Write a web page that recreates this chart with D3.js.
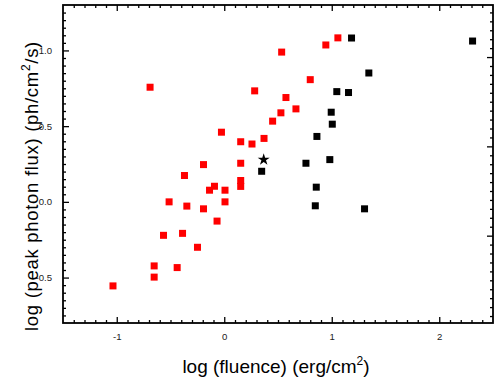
<!DOCTYPE html>
<html>
<head>
<meta charset="utf-8">
<script src="https://cdn.jsdelivr.net/npm/d3@7"></script>
<style>
  html, body { margin: 0; padding: 0; background: #fff; }
  svg { display: block; font-family: "Liberation Sans", Arial, sans-serif; }
</style>
</head>
<body>
<svg id="chart" width="500" height="383"></svg>
<script>
// ---- data (log fluence, log peak photon flux) ----
const redX = [-0.69, -0.026, 1.057, 0.945, 0.534, 0.80, 0.283, 0.574, 0.667, 0.527, 0.450, 0.37,
              0.153, 0.258, -0.193, 0.153, -0.37, 0.153, 0.153, -0.091, -0.137, 0.007, 0.007,
              -0.513, -0.348, -0.193, -0.067, -0.565, -0.388, -0.249, -0.652, -0.438, -0.652, -1.035];
const redY = [0.757, 0.46, 1.083, 1.036, 0.989, 0.807, 0.733, 0.689, 0.614, 0.588, 0.533, 0.419,
              0.397, 0.382, 0.246, 0.255, 0.174, 0.141, 0.102, 0.103, 0.077, 0.077, 0.0,
              0.0, -0.028, -0.046, -0.127, -0.221, -0.208, -0.30, -0.423, -0.434, -0.497, -0.555];
const blackX = [1.184, 1.345, 1.047, 1.156, 0.995, 1.005, 0.862, 0.76, 0.982, 0.348, 0.856, 0.847, 1.305, 2.31];
const blackY = [1.082, 0.851, 0.728, 0.722, 0.592, 0.513, 0.432, 0.255, 0.279, 0.202, 0.097, -0.026, -0.046, 1.062];
const starX = [0.367];
const starY = [0.279];

const xTickValues = [-1, 0, 1, 2];
const xTickLabels = ["-1", "0", "1", "2"];
const yTickValues = [-0.5, 0.0, 0.5, 1.0];
const yTickLabels = ["-0.5", "0.0", "0.5", "1.0"];
const rightTickValues = [1, 2, 3];

// ---- layout ----
const W = 500, H = 383;
const m = { left: 63, top: 5, right: 7, bottom: 60 };
const pw = W - m.left - m.right, ph = H - m.top - m.bottom;

const svg = d3.select("#chart");
const g = svg.append("g").attr("transform", `translate(${m.left},${m.top})`);

const x = d3.scaleLinear().domain([-1.5, 2.5]).range([0, pw]);
const y = d3.scaleLinear().domain([-0.8, 1.3]).range([ph, 0]);
const y2 = d3.scaleLinear().domain([0.022, 3.583]).range([ph, 0]);

const xMinor = d3.range(-14, 25).map(d => d / 10).filter(v => !xTickValues.includes(Math.round(v*10)/10));
const yMinor = d3.range(-15, 26).map(d => d / 20).filter(v => !yTickValues.includes(Math.round(v*20)/20));
const y2Minor = d3.range(1, 36).map(d => d / 10).filter(v => !rightTickValues.includes(v));

const labelColor = "#222";
function styleAxis(sel) {
  sel.select(".domain").remove();
  sel.selectAll("line").attr("stroke", "#000").attr("stroke-width", 1.3);
  sel.selectAll("text").attr("fill", labelColor).attr("font-size", 9.6)
     .attr("font-family", "Liberation Sans, Arial, sans-serif");
}

// bottom
g.append("g").attr("transform", `translate(0,${ph})`)
  .call(d3.axisBottom(x).tickValues(xTickValues).tickFormat((d,i) => xTickLabels[i]).tickSize(-6).tickPadding(10))
  .call(styleAxis);
g.append("g").attr("transform", `translate(0,${ph})`)
  .call(d3.axisBottom(x).tickValues(xMinor).tickFormat("").tickSize(-3))
  .call(styleAxis);
// top
g.append("g")
  .call(d3.axisTop(x).tickValues(xTickValues).tickFormat("").tickSize(-6))
  .call(styleAxis);
g.append("g")
  .call(d3.axisTop(x).tickValues(xMinor).tickFormat("").tickSize(-3))
  .call(styleAxis);
// left
g.append("g")
  .call(d3.axisLeft(y).tickValues(yTickValues).tickFormat((d,i) => yTickLabels[i]).tickSize(-6).tickPadding(11))
  .call(styleAxis);
g.append("g")
  .call(d3.axisLeft(y).tickValues(yMinor).tickFormat("").tickSize(-3))
  .call(styleAxis);
// right (secondary scale)
g.append("g").attr("transform", `translate(${pw},0)`)
  .call(d3.axisRight(y2).tickValues(rightTickValues).tickFormat("").tickSize(-6))
  .call(styleAxis);
g.append("g").attr("transform", `translate(${pw},0)`)
  .call(d3.axisRight(y2).tickValues(y2Minor).tickFormat("").tickSize(-3))
  .call(styleAxis);

// frame
g.append("rect").attr("x", 0).attr("y", 0).attr("width", pw).attr("height", ph)
  .attr("fill", "none").attr("stroke", "#000").attr("stroke-width", 1.8);

// ---- points ----
const sq = 7;
const red = redX.map((v, i) => ({ x: v, y: redY[i] }));
const black = blackX.map((v, i) => ({ x: v, y: blackY[i] }));
const star = starX.map((v, i) => ({ x: v, y: starY[i] }));

g.append("g").selectAll("rect").data(red).join("rect")
  .attr("x", d => x(d.x) - sq/2).attr("y", d => y(d.y) - sq/2)
  .attr("width", sq).attr("height", sq).attr("fill", "#ff0000");

g.append("g").selectAll("rect").data(black).join("rect")
  .attr("x", d => x(d.x) - sq/2).attr("y", d => y(d.y) - sq/2)
  .attr("width", sq).attr("height", sq).attr("fill", "#000");

g.append("g").selectAll("path").data(star).join("path")
  .attr("transform", d => `translate(${x(d.x)},${y(d.y)})`)
  .attr("d", d3.symbol().type(d3.symbolStar).size(45))
  .attr("fill", "#000");

// ---- axis titles ----
const xt = svg.append("text")
  .attr("x", 276).attr("y", 373)
  .attr("text-anchor", "middle").attr("font-size", 19).attr("fill", "#000");
xt.append("tspan").text("log (fluence) (erg/cm");
xt.append("tspan").attr("dy", -8).attr("font-size", 12).text("2");
xt.append("tspan").attr("dy", 8).text(")");

const yt = svg.append("text")
  .attr("transform", `translate(38,186) rotate(-90)`)
  .attr("text-anchor", "middle").attr("font-size", 18.5).attr("letter-spacing", 0.7).attr("fill", "#000");
yt.append("tspan").text("log (peak photon flux) (ph/cm");
yt.append("tspan").attr("dy", -8).attr("font-size", 12).text("2");
yt.append("tspan").attr("dy", 8).text("/s)");
</script>
</body>
</html>
